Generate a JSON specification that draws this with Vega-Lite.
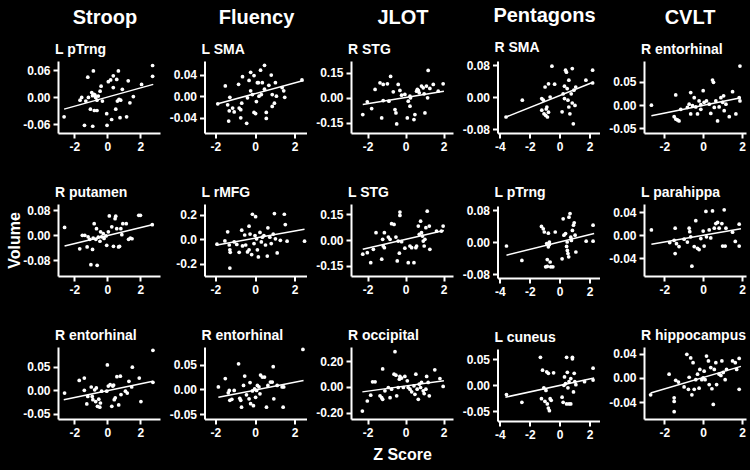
{
"$schema":"https://vega.github.io/schema/vega-lite/v6.json",
"background":"black",
"padding":{"left":6,"top":6,"right":6,"bottom":8},
"spacing":8.5,
"config":{
"locale":{"number":{"decimal":".","thousands":",","grouping":[3],"currency":["$",""],"minus":"-"}},
"view":{"stroke":null},
"font":"Liberation Sans",
"axis":{"grid":false,"labelOverlap":false,"labelFlush":false,"tickCount":10,"domainColor":"white","domainWidth":2,"tickColor":"white","tickWidth":2,"tickSize":5,"labelColor":"white","labelFont":"Liberation Sans","labelFontWeight":"bold","labelFontSize":12,"labelPadding":3,"titleColor":"white","titleFont":"Liberation Sans","titleFontWeight":"bold","titleFontSize":16},
"title":{"color":"white","font":"Liberation Sans","fontWeight":"bold","fontSize":14,"anchor":"start","frame":"group","offset":4,"dx":-3},
"circle":{"color":"white","opacity":1,"size":14},
"rule":{"color":"white","strokeWidth":1.5}
},
"datasets":{
"fit":[
{"p":1,"x":-2.63,"y":-0.027,"x2":2.79,"y2":0.028},
{"p":2,"x":-1.88,"y":-0.014,"x2":2.45,"y2":0.029},
{"p":3,"x":-2.26,"y":-0.04,"x2":2.02,"y2":0.04},
{"p":4,"x":-3.59,"y":-0.05,"x2":2.27,"y2":0.0375},
{"p":5,"x":-2.66,"y":-0.023,"x2":1.94,"y2":0.016},
{"p":6,"x":-2.6,"y":-0.034,"x2":2.73,"y2":0.034},
{"p":7,"x":-1.92,"y":-0.046,"x2":2.5,"y2":0.083},
{"p":8,"x":-2.26,"y":-0.054,"x2":2.02,"y2":0.056},
{"p":9,"x":-3.56,"y":-0.033,"x2":2.3,"y2":0.021},
{"p":10,"x":-2.66,"y":-0.016,"x2":1.94,"y2":0.011},
{"p":11,"x":-2.65,"y":-0.02,"x2":2.77,"y2":0.019},
{"p":12,"x":-1.85,"y":-0.016,"x2":2.45,"y2":0.018},
{"p":13,"x":-2.28,"y":-0.039,"x2":2.02,"y2":0.047},
{"p":14,"x":-3.63,"y":-0.023,"x2":2.3,"y2":0.014},
{"p":15,"x":-2.7,"y":-0.025,"x2":1.94,"y2":0.019}
],
"p1":[{"x":-2.63,"y":-0.044},{"x":-1.39,"y":-0.063},{"x":-0.89,"y":-0.065},{"x":-0.85,"y":0.058},{"x":-1.19,"y":0.044},{"x":-1.66,"y":-0.007},{"x":-1.56,"y":-0.001},{"x":-1.31,"y":-0.009},{"x":-1.15,"y":-0.001},{"x":-1.03,"y":-0.027},{"x":-0.79,"y":-0.03},{"x":-0.63,"y":-0.03},{"x":-0.95,"y":0.01},{"x":-0.81,"y":0.006},{"x":-0.71,"y":-0.001},{"x":-0.63,"y":-0.007},{"x":-0.55,"y":0.002},{"x":-0.44,"y":0.013},{"x":-0.38,"y":0.024},{"x":-0.3,"y":-0.009},{"x":-0.04,"y":-0.037},{"x":-0.02,"y":-0.063},{"x":0.06,"y":0.034},{"x":0.2,"y":0.038},{"x":0.36,"y":0.047},{"x":0.57,"y":0.039},{"x":0.67,"y":0.058},{"x":0.36,"y":0.021},{"x":0.26,"y":-0.05},{"x":0.51,"y":-0.027},{"x":0.61,"y":-0.009},{"x":0.71,"y":-0.005},{"x":0.81,"y":-0.007},{"x":0.91,"y":0.017},{"x":0.77,"y":-0.046},{"x":1.17,"y":-0.044},{"x":1.27,"y":0.036},{"x":1.37,"y":-0.013},{"x":1.58,"y":0.001},{"x":2.08,"y":0.028},{"x":2.75,"y":0.07},{"x":2.75,"y":0.046},{"x":-0.9,"y":0.003},{"x":-0.75,"y":0.004}],
"p2":[{"x":-1.88,"y":-0.014},{"x":-1.5,"y":0.019},{"x":-1.38,"y":-0.016},{"x":-1.27,"y":-0.002},{"x":-1.3,"y":-0.027},{"x":-1.33,"y":-0.046},{"x":-1.13,"y":-0.022},{"x":-1.05,"y":-0.029},{"x":-0.83,"y":0.022},{"x":-0.8,"y":-0.022},{"x":-0.72,"y":-0.025},{"x":-0.67,"y":-0.013},{"x":-0.63,"y":0.036},{"x":-0.72,"y":-0.04},{"x":-0.42,"y":-0.05},{"x":-0.38,"y":-0.003},{"x":-0.3,"y":0.029},{"x":-0.22,"y":0.044},{"x":-0.22,"y":0.01},{"x":-0.13,"y":0.003},{"x":-0.05,"y":0.038},{"x":-0.05,"y":-0.03},{"x":0.03,"y":-0.032},{"x":0.07,"y":-0.01},{"x":0.12,"y":0.025},{"x":0.17,"y":0.025},{"x":0.28,"y":0.048},{"x":0.2,"y":0},{"x":0.37,"y":0.025},{"x":0.32,"y":0.003},{"x":0.48,"y":0.057},{"x":0.48,"y":0.013},{"x":0.57,"y":-0.03},{"x":0.57,"y":-0.041},{"x":0.7,"y":0.02},{"x":0.82,"y":0.039},{"x":0.87,"y":0.003},{"x":0.87,"y":-0.019},{"x":0.98,"y":-0.013},{"x":1.03,"y":0.025},{"x":1.08,"y":0},{"x":1.37,"y":0.016},{"x":1.45,"y":0.01},{"x":1.5,"y":-0.002},{"x":2.37,"y":0.03}],
"p3":[{"x":-2.26,"y":-0.1},{"x":-2.02,"y":-0.024},{"x":-1.79,"y":-0.064},{"x":-1.61,"y":0.05},{"x":-1.35,"y":0.09},{"x":-1.18,"y":0.08},{"x":-1.26,"y":-0.12},{"x":-1.18,"y":-0.016},{"x":-0.96,"y":0.084},{"x":-0.88,"y":-0.02},{"x":-0.79,"y":0.128},{"x":-0.65,"y":0.036},{"x":-0.56,"y":-0.07},{"x":-0.51,"y":-0.09},{"x":-0.47,"y":-0.156},{"x":-0.39,"y":0.08},{"x":-0.3,"y":0.044},{"x":-0.21,"y":0.016},{"x":-0.04,"y":0.02},{"x":0.09,"y":-0.12},{"x":0.14,"y":-0.02},{"x":0.23,"y":-0.05},{"x":0.26,"y":0},{"x":0.44,"y":-0.13},{"x":0.49,"y":-0.1},{"x":0.58,"y":0.04},{"x":0.67,"y":0.044},{"x":0.72,"y":0.03},{"x":0.84,"y":0.07},{"x":0.93,"y":0.06},{"x":0.98,"y":0.024},{"x":1.02,"y":-0.09},{"x":1.1,"y":0.07},{"x":1.16,"y":0},{"x":1.19,"y":0.164},{"x":1.28,"y":0.056},{"x":1.46,"y":0.08},{"x":1.72,"y":0.04},{"x":1.98,"y":0.084},{"x":0.23,"y":0.01},{"x":0.62,"y":0.05}],
"p4":[{"x":-3.59,"y":-0.05},{"x":-2.5,"y":-0.008},{"x":-1.2,"y":-0.004},{"x":-1.09,"y":-0.008},{"x":-0.98,"y":0.025},{"x":-1.2,"y":-0.033},{"x":-1.05,"y":-0.042},{"x":-0.86,"y":-0.025},{"x":-0.93,"y":-0.046},{"x":-0.82,"y":-0.05},{"x":-0.75,"y":0.033},{"x":-0.64,"y":0},{"x":-0.52,"y":0.077},{"x":-0.34,"y":0.032},{"x":-0.75,"y":-0.038},{"x":0.16,"y":-0.037},{"x":0.23,"y":0.008},{"x":0.32,"y":-0.004},{"x":0.39,"y":0.067},{"x":0.45,"y":0.062},{"x":0.5,"y":0.021},{"x":0.55,"y":-0.008},{"x":0.61,"y":0.042},{"x":0.61,"y":-0.025},{"x":0.68,"y":-0.042},{"x":0.77,"y":0.008},{"x":0.84,"y":0.071},{"x":0.84,"y":-0.015},{"x":0.91,"y":-0.067},{"x":0.95,"y":0.017},{"x":1.02,"y":-0.021},{"x":1.07,"y":0.025},{"x":1.75,"y":0.042},{"x":2.2,"y":0.067},{"x":2.2,"y":0.035},{"x":0.32,"y":0.027},{"x":-0.9,"y":-0.03}],
"p5":[{"x":-2.66,"y":0},{"x":-1.41,"y":0.022},{"x":-1.49,"y":-0.025},{"x":-1.41,"y":-0.03},{"x":-1.32,"y":-0.032},{"x":-1.24,"y":-0.034},{"x":-1.15,"y":-0.009},{"x":-0.81,"y":-0.005},{"x":-0.72,"y":0.002},{"x":-0.64,"y":0.027},{"x":-0.64,"y":-0.019},{"x":-0.46,"y":0.016},{"x":-0.38,"y":-0.004},{"x":-0.29,"y":-0.019},{"x":-0.21,"y":0.009},{"x":-0.12,"y":-0.009},{"x":0,"y":0.031},{"x":0.05,"y":0.006},{"x":0.17,"y":0.009},{"x":0.31,"y":0.002},{"x":0.39,"y":-0.018},{"x":0.48,"y":0.054},{"x":0.53,"y":0.049},{"x":0.57,"y":-0.005},{"x":0.65,"y":0.009},{"x":0.74,"y":-0.034},{"x":0.82,"y":-0.004},{"x":0.91,"y":0.016},{"x":1,"y":0.006},{"x":1.05,"y":0.02},{"x":1.08,"y":-0.012},{"x":1.17,"y":0.002},{"x":1.34,"y":-0.025},{"x":1.51,"y":0.029},{"x":1.68,"y":-0.019},{"x":1.85,"y":0.016},{"x":1.89,"y":0.084},{"x":1.89,"y":0.009},{"x":-0.12,"y":0.001},{"x":-0.55,"y":-0.001}],
"p6":[{"x":-2.6,"y":0.025},{"x":-1.68,"y":-0.043},{"x":-1.52,"y":0},{"x":-1.37,"y":0},{"x":-1.23,"y":-0.037},{"x":-1.17,"y":-0.005},{"x":-1.07,"y":-0.013},{"x":-1,"y":-0.094},{"x":-0.9,"y":-0.045},{"x":-0.86,"y":-0.009},{"x":-0.8,"y":0.037},{"x":-0.7,"y":-0.013},{"x":-0.66,"y":0.021},{"x":-0.62,"y":-0.096},{"x":-0.55,"y":-0.006},{"x":-0.45,"y":-0.019},{"x":-0.41,"y":0.011},{"x":-0.25,"y":0.005},{"x":-0.08,"y":-0.002},{"x":-0.04,"y":-0.032},{"x":0.06,"y":0.011},{"x":0.12,"y":0.062},{"x":0.27,"y":0.027},{"x":0.37,"y":-0.035},{"x":0.47,"y":0.053},{"x":0.51,"y":0.061},{"x":0.57,"y":0.021},{"x":0.68,"y":-0.037},{"x":0.74,"y":-0.035},{"x":0.82,"y":0.021},{"x":0.88,"y":0.002},{"x":0.94,"y":0.037},{"x":1.15,"y":0.037},{"x":1.29,"y":-0.013},{"x":1.4,"y":-0.009},{"x":1.5,"y":-0.011},{"x":1.91,"y":0.064},{"x":2.01,"y":0.064},{"x":2.73,"y":0.034},{"x":-0.35,"y":-0.005},{"x":-0.2,"y":-0.01}],
"p7":[{"x":-1.92,"y":-0.039},{"x":-1.52,"y":-0.013},{"x":-1.38,"y":0.062},{"x":-1.3,"y":-0.046},{"x":-1.27,"y":-0.085},{"x":-1.25,"y":-0.106},{"x":-1.27,"y":-0.235},{"x":-1.05,"y":-0.021},{"x":-0.92,"y":-0.041},{"x":-0.8,"y":-0.106},{"x":-0.67,"y":0.075},{"x":-0.63,"y":-0.054},{"x":-0.52,"y":0.036},{"x":-0.47,"y":-0.046},{"x":-0.38,"y":-0.103},{"x":-0.3,"y":0.108},{"x":-0.3,"y":-0.085},{"x":-0.25,"y":0.044},{"x":-0.17,"y":-0.124},{"x":-0.13,"y":0.206},{"x":0.03,"y":0.186},{"x":-0.05,"y":-0.034},{"x":0,"y":0.031},{"x":0.08,"y":0.005},{"x":0.12,"y":-0.085},{"x":0.17,"y":-0.144},{"x":0.25,"y":0.057},{"x":0.32,"y":-0.021},{"x":0.37,"y":0.018},{"x":0.45,"y":0.031},{"x":0.53,"y":-0.046},{"x":0.62,"y":-0.137},{"x":0.65,"y":0.095},{"x":0.75,"y":0.018},{"x":0.82,"y":-0.034},{"x":0.92,"y":0.044},{"x":0.98,"y":0.212},{"x":1.03,"y":0.005},{"x":1.12,"y":-0.111},{"x":1.28,"y":-0.008},{"x":1.48,"y":0.206},{"x":1.53,"y":0.121},{"x":1.62,"y":-0.015},{"x":2.5,"y":-0.015}],
"p8":[{"x":-2.26,"y":-0.083},{"x":-2.02,"y":-0.074},{"x":-1.84,"y":-0.132},{"x":-1.7,"y":-0.054},{"x":-1.56,"y":0.043},{"x":-1.26,"y":-0.112},{"x":-1.21,"y":0.004},{"x":-1.12,"y":0.043},{"x":-1.18,"y":-0.035},{"x":-1.12,"y":-0.045},{"x":-0.91,"y":0.017},{"x":-0.82,"y":0.004},{"x":-0.74,"y":0.095},{"x":-0.61,"y":0.091},{"x":-0.51,"y":0.017},{"x":-0.44,"y":-0.122},{"x":-0.39,"y":-0.006},{"x":-0.33,"y":-0.077},{"x":-0.3,"y":0.163},{"x":-0.3,"y":0.143},{"x":-0.21,"y":-0.01},{"x":-0.04,"y":-0.048},{"x":0.14,"y":-0.132},{"x":0.23,"y":-0.035},{"x":0.32,"y":-0.045},{"x":0.44,"y":-0.132},{"x":0.54,"y":-0.045},{"x":0.58,"y":-0.035},{"x":0.67,"y":0.081},{"x":0.72,"y":0.033},{"x":0.79,"y":0.11},{"x":0.84,"y":0.043},{"x":0.89,"y":0.023},{"x":0.93,"y":-0.006},{"x":0.98,"y":-0.035},{"x":1.02,"y":0.004},{"x":1.07,"y":0.072},{"x":1.14,"y":0.168},{"x":1.28,"y":-0.054},{"x":1.25,"y":0.081},{"x":1.63,"y":0.052},{"x":1.89,"y":0.052},{"x":1.98,"y":0.081}],
"p9":[{"x":-3.56,"y":-0.01},{"x":-2.53,"y":-0.046},{"x":-1.22,"y":0.039},{"x":-1.1,"y":0.033},{"x":-1.03,"y":0.025},{"x":-0.87,"y":-0.004},{"x":-0.83,"y":-0.044},{"x":-0.76,"y":0.022},{"x":-0.76,"y":-0.012},{"x":-0.69,"y":-0.006},{"x":-0.69,"y":0},{"x":-0.64,"y":-0.05},{"x":-0.6,"y":-0.062},{"x":-0.94,"y":-0.062},{"x":-0.83,"y":-0.061},{"x":-0.46,"y":-0.062},{"x":-0.3,"y":0.025},{"x":0.16,"y":-0.042},{"x":0.23,"y":0.058},{"x":0.28,"y":0.017},{"x":0.39,"y":0.021},{"x":0.46,"y":-0.011},{"x":0.51,"y":-0.021},{"x":0.55,"y":-0.029},{"x":0.6,"y":-0.037},{"x":0.62,"y":0.062},{"x":0.69,"y":0.071},{"x":0.74,"y":0.012},{"x":0.78,"y":0.004},{"x":0.85,"y":0.029},{"x":0.92,"y":0.042},{"x":0.97,"y":0.048},{"x":1.08,"y":-0.025},{"x":1.03,"y":0.017},{"x":1.77,"y":0.002},{"x":2.23,"y":0.042},{"x":2.23,"y":0.002},{"x":0.5,"y":0}],
"p10":[{"x":-2.66,"y":0.009},{"x":-1.72,"y":-0.013},{"x":-1.49,"y":-0.009},{"x":-1.44,"y":0.012},{"x":-1.44,"y":-0.032},{"x":-1.37,"y":-0.015},{"x":-1.24,"y":-0.02},{"x":-0.98,"y":-0.007},{"x":-0.81,"y":-0.012},{"x":-0.72,"y":0.012},{"x":-0.69,"y":0.006},{"x":-0.64,"y":-0.003},{"x":-0.58,"y":-0.054},{"x":-0.46,"y":-0.02},{"x":-0.38,"y":0.025},{"x":-0.29,"y":-0.023},{"x":-0.21,"y":-0.025},{"x":-0.12,"y":-0.006},{"x":0,"y":0.007},{"x":0.05,"y":-0.019},{"x":0.14,"y":0.041},{"x":0.17,"y":-0.003},{"x":0.31,"y":0.009},{"x":0.39,"y":-0.005},{"x":0.48,"y":0.042},{"x":0.57,"y":0.012},{"x":0.65,"y":0.02},{"x":0.74,"y":0.022},{"x":0.82,"y":0.012},{"x":0.96,"y":0.02},{"x":1,"y":-0.019},{"x":1.08,"y":0.044},{"x":1.13,"y":-0.019},{"x":1.17,"y":0.012},{"x":1.51,"y":0.005},{"x":1.65,"y":-0.011},{"x":1.85,"y":0.019},{"x":1.85,"y":-0.019}],
"p11":[{"x":-2.6,"y":-0.006},{"x":-1.71,"y":0.021},{"x":-1.4,"y":0.026},{"x":-1.4,"y":0},{"x":-1.25,"y":-0.029},{"x":-1.19,"y":-0.013},{"x":-0.98,"y":0.007},{"x":-0.92,"y":-0.013},{"x":-0.88,"y":-0.02},{"x":-0.77,"y":0.001},{"x":-0.71,"y":-0.024},{"x":-0.67,"y":0.005},{"x":-0.6,"y":-0.034},{"x":-0.52,"y":-0.019},{"x":-0.46,"y":-0.036},{"x":-0.42,"y":-0.027},{"x":-0.35,"y":-0.002},{"x":-0.04,"y":-0.002},{"x":0,"y":0.054},{"x":0.06,"y":0.009},{"x":0.17,"y":0.012},{"x":0.27,"y":-0.034},{"x":0.33,"y":0.009},{"x":0.42,"y":-0.02},{"x":0.48,"y":-0.016},{"x":0.58,"y":0.029},{"x":0.69,"y":-0.031},{"x":0.79,"y":0.03},{"x":0.83,"y":-0.009},{"x":1.1,"y":-0.002},{"x":1.21,"y":-0.006},{"x":1.31,"y":0.019},{"x":1.52,"y":0.049},{"x":1.48,"y":0.007},{"x":1.94,"y":0.026},{"x":2.04,"y":-0.024},{"x":2.77,"y":0.085},{"x":2.77,"y":0.017},{"x":0.38,"y":0.011}],
"p12":[{"x":-1.85,"y":0.005},{"x":-1.5,"y":0.022},{"x":-1.35,"y":-0.007},{"x":-1.3,"y":-0.002},{"x":-1.27,"y":-0.022},{"x":-1.17,"y":-0.02},{"x":-1.05,"y":-0.002},{"x":-0.83,"y":0.052},{"x":-0.77,"y":-0.018},{"x":-0.72,"y":-0.022},{"x":-0.68,"y":-0.036},{"x":-0.58,"y":0.008},{"x":-0.52,"y":0.027},{"x":-0.43,"y":-0.011},{"x":-0.3,"y":-0.019},{"x":-0.25,"y":0.014},{"x":-0.22,"y":-0.029},{"x":-0.13,"y":-0.003},{"x":-0.08,"y":-0.033},{"x":-0.02,"y":0.001},{"x":0.03,"y":-0.016},{"x":0.08,"y":-0.002},{"x":0.12,"y":0.008},{"x":0.2,"y":0.005},{"x":0.25,"y":-0.009},{"x":0.28,"y":0.029},{"x":0.37,"y":0.025},{"x":0.48,"y":0.025},{"x":0.58,"y":-0.036},{"x":0.65,"y":0.008},{"x":0.78,"y":0.015},{"x":0.87,"y":0.015},{"x":0.92,"y":0.046},{"x":0.95,"y":-0.019},{"x":1.12,"y":0.008},{"x":1.37,"y":0.005},{"x":1.42,"y":-0.036},{"x":1.45,"y":0.005},{"x":2.42,"y":0.081}],
"p13":[{"x":-2.28,"y":-0.188},{"x":-2.02,"y":-0.11},{"x":-1.84,"y":-0.065},{"x":-1.74,"y":0.039},{"x":-1.61,"y":0.039},{"x":-1.35,"y":-0.07},{"x":-1.26,"y":-0.084},{"x":-1.21,"y":0.139},{"x":-1.21,"y":-0.097},{"x":-1.09,"y":-0.031},{"x":-0.91,"y":-0.005},{"x":-0.82,"y":-0.084},{"x":-0.74,"y":-0.018},{"x":-0.61,"y":0.099},{"x":-0.56,"y":0.274},{"x":-0.51,"y":0.091},{"x":-0.47,"y":-0.07},{"x":-0.39,"y":-0.005},{"x":-0.33,"y":0.06},{"x":-0.3,"y":0.081},{"x":-0.21,"y":0.068},{"x":-0.12,"y":-0.005},{"x":-0.04,"y":0.081},{"x":0.09,"y":0.047},{"x":0.14,"y":-0.005},{"x":0.23,"y":-0.018},{"x":0.32,"y":-0.039},{"x":0.44,"y":0.008},{"x":0.49,"y":-0.058},{"x":0.54,"y":0.099},{"x":0.61,"y":-0.018},{"x":0.67,"y":-0.097},{"x":0.72,"y":0.021},{"x":0.79,"y":-0.005},{"x":0.84,"y":0.034},{"x":0.93,"y":-0.031},{"x":0.98,"y":-0.052},{"x":1.07,"y":-0.018},{"x":1.11,"y":0.081},{"x":1.19,"y":0.034},{"x":1.25,"y":-0.07},{"x":1.54,"y":0.133},{"x":1.81,"y":0.065},{"x":1.98,"y":0.003}],
"p14":[{"x":-3.56,"y":-0.018},{"x":-2.53,"y":-0.033},{"x":-1.29,"y":0.054},{"x":-1.22,"y":-0.026},{"x":-1.15,"y":0.029},{"x":-1.06,"y":-0.005},{"x":-0.99,"y":-0.031},{"x":-0.92,"y":-0.01},{"x":-0.87,"y":0.026},{"x":-0.83,"y":-0.036},{"x":-0.76,"y":0.023},{"x":-0.76,"y":-0.044},{"x":-0.69,"y":-0.049},{"x":-0.64,"y":-0.026},{"x":-0.57,"y":-0.029},{"x":-0.41,"y":0.024},{"x":0.16,"y":-0.023},{"x":0.23,"y":-0.033},{"x":0.28,"y":0},{"x":0.32,"y":0.016},{"x":0.39,"y":0.003},{"x":0.46,"y":0.054},{"x":0.46,"y":-0.036},{"x":0.51,"y":0.025},{"x":0.55,"y":-0.005},{"x":0.62,"y":0.007},{"x":0.62,"y":-0.036},{"x":0.74,"y":0.013},{"x":0.85,"y":0.054},{"x":0.85,"y":0.051},{"x":0.92,"y":-0.013},{"x":0.97,"y":0.023},{"x":1.01,"y":0.007},{"x":1.08,"y":0.001},{"x":0.74,"y":-0.036},{"x":1.66,"y":0.007},{"x":2.23,"y":0.033},{"x":2.23,"y":0.01}],
"p15":[{"x":-2.7,"y":-0.028},{"x":-1.75,"y":0.006},{"x":-1.49,"y":-0.033},{"x":-1.49,"y":-0.039},{"x":-1.49,"y":-0.056},{"x":-1.41,"y":-0.004},{"x":-1.27,"y":-0.007},{"x":-0.98,"y":-0.015},{"x":-0.84,"y":0.039},{"x":-0.76,"y":-0.019},{"x":-0.72,"y":0.001},{"x":-0.64,"y":0.033},{"x":-0.58,"y":-0.028},{"x":-0.52,"y":0.025},{"x":-0.46,"y":-0.019},{"x":-0.38,"y":-0.003},{"x":-0.29,"y":0.006},{"x":-0.21,"y":-0.017},{"x":-0.17,"y":0.014},{"x":-0.07,"y":-0.003},{"x":0,"y":0},{"x":0.05,"y":0.011},{"x":0.1,"y":-0.003},{"x":0.17,"y":0.036},{"x":0.27,"y":0.028},{"x":0.31,"y":-0.011},{"x":0.39,"y":0.017},{"x":0.45,"y":-0.018},{"x":0.52,"y":-0.044},{"x":0.57,"y":0.014},{"x":0.65,"y":0.025},{"x":0.69,"y":-0.011},{"x":0.82,"y":0.006},{"x":0.91,"y":0.004},{"x":0.96,"y":0.028},{"x":1.03,"y":0.009},{"x":1.13,"y":-0.003},{"x":1.2,"y":0.014},{"x":1.51,"y":0.028},{"x":1.65,"y":0.025},{"x":1.85,"y":0.032},{"x":1.85,"y":-0.019},{"x":1.72,"y":0.014}]
},
"hconcat":[
{"title":{"text":"Stroop","fontSize":20,"anchor":"middle","dx":47,"offset":15},"spacing":34,"vconcat":[
{"width":102,"height":72,"title":"L pTrng","layer":[
{"data":{"name":"p1"},"mark":"circle","encoding":{"x":{"field":"x","type":"quantitative","scale":{"domain":[-3,3.2],"nice":false,"zero":false},"axis":{"values":[-2,0,2],"format":"d","title":null,"tickCount":10}},"y":{"field":"y","type":"quantitative","scale":{"domain":[-0.08,0.08],"nice":false,"zero":false},"axis":{"values":[-0.06,0,0.06],"format":".2f","title":null,"tickCount":10}}}},
{"data":{"name":"fit"},"transform":[{"filter":"datum.p==1"}],"mark":"rule","encoding":{"x":{"field":"x","type":"quantitative"},"y":{"field":"y","type":"quantitative"},"x2":{"field":"x2"},"y2":{"field":"y2"}}}]},
{"width":102,"height":72,"title":"R putamen","layer":[
{"data":{"name":"p6"},"mark":"circle","encoding":{"x":{"field":"x","type":"quantitative","scale":{"domain":[-3,3.2],"nice":false,"zero":false},"axis":{"values":[-2,0,2],"format":"d","title":null,"tickCount":10}},"y":{"field":"y","type":"quantitative","scale":{"domain":[-0.13,0.1],"nice":false,"zero":false},"axis":{"values":[-0.08,0,0.08],"format":".2f","title":"Volume","titlePadding":0,"tickCount":10}}}},
{"data":{"name":"fit"},"transform":[{"filter":"datum.p==6"}],"mark":"rule","encoding":{"x":{"field":"x","type":"quantitative"},"y":{"field":"y","type":"quantitative"},"x2":{"field":"x2"},"y2":{"field":"y2"}}}]},
{"width":102,"height":72,"title":"R entorhinal","layer":[
{"data":{"name":"p11"},"mark":"circle","encoding":{"x":{"field":"x","type":"quantitative","scale":{"domain":[-3,3.2],"nice":false,"zero":false},"axis":{"values":[-2,0,2],"format":"d","title":null,"tickCount":10}},"y":{"field":"y","type":"quantitative","scale":{"domain":[-0.061,0.092],"nice":false,"zero":false},"axis":{"values":[-0.05,0,0.05],"format":".2f","title":null,"tickCount":10}}}},
{"data":{"name":"fit"},"transform":[{"filter":"datum.p==11"}],"mark":"rule","encoding":{"x":{"field":"x","type":"quantitative"},"y":{"field":"y","type":"quantitative"},"x2":{"field":"x2"},"y2":{"field":"y2"}}}]}
]},
{"title":{"text":"Fluency","fontSize":20,"anchor":"middle","dx":52,"offset":15},"spacing":34,"vconcat":[
{"width":102,"height":72,"title":"L SMA","layer":[
{"data":{"name":"p2"},"mark":"circle","encoding":{"x":{"field":"x","type":"quantitative","scale":{"domain":[-2.55,2.6],"nice":false,"zero":false},"axis":{"values":[-2,0,2],"format":"d","title":null,"tickCount":10}},"y":{"field":"y","type":"quantitative","scale":{"domain":[-0.068,0.065],"nice":false,"zero":false},"axis":{"values":[-0.04,0,0.04],"format":".2f","title":null,"tickCount":10}}}},
{"data":{"name":"fit"},"transform":[{"filter":"datum.p==2"}],"mark":"rule","encoding":{"x":{"field":"x","type":"quantitative"},"y":{"field":"y","type":"quantitative"},"x2":{"field":"x2"},"y2":{"field":"y2"}}}]},
{"width":102,"height":72,"title":"L rMFG","layer":[
{"data":{"name":"p7"},"mark":"circle","encoding":{"x":{"field":"x","type":"quantitative","scale":{"domain":[-2.55,2.6],"nice":false,"zero":false},"axis":{"values":[-2,0,2],"format":"d","title":null,"tickCount":10}},"y":{"field":"y","type":"quantitative","scale":{"domain":[-0.3,0.29],"nice":false,"zero":false},"axis":{"values":[-0.2,0,0.2],"format":".1f","title":null,"tickCount":10}}}},
{"data":{"name":"fit"},"transform":[{"filter":"datum.p==7"}],"mark":"rule","encoding":{"x":{"field":"x","type":"quantitative"},"y":{"field":"y","type":"quantitative"},"x2":{"field":"x2"},"y2":{"field":"y2"}}}]},
{"width":102,"height":72,"title":"R entorhinal","layer":[
{"data":{"name":"p12"},"mark":"circle","encoding":{"x":{"field":"x","type":"quantitative","scale":{"domain":[-2.55,2.6],"nice":false,"zero":false},"axis":{"values":[-2,0,2],"format":"d","title":null,"tickCount":10}},"y":{"field":"y","type":"quantitative","scale":{"domain":[-0.06,0.086],"nice":false,"zero":false},"axis":{"values":[-0.05,0,0.05],"format":".2f","title":null,"tickCount":10}}}},
{"data":{"name":"fit"},"transform":[{"filter":"datum.p==12"}],"mark":"rule","encoding":{"x":{"field":"x","type":"quantitative"},"y":{"field":"y","type":"quantitative"},"x2":{"field":"x2"},"y2":{"field":"y2"}}}]}
]},
{"title":{"text":"JLOT","fontSize":20,"anchor":"middle","dx":52,"offset":15},"spacing":34,"vconcat":[
{"width":102,"height":72,"title":"R STG","layer":[
{"data":{"name":"p3"},"mark":"circle","encoding":{"x":{"field":"x","type":"quantitative","scale":{"domain":[-2.88,2.5],"nice":false,"zero":false},"axis":{"values":[-2,0,2],"format":"d","title":null,"tickCount":10}},"y":{"field":"y","type":"quantitative","scale":{"domain":[-0.21,0.22],"nice":false,"zero":false},"axis":{"values":[-0.15,0,0.15],"format":".2f","title":null,"tickCount":10}}}},
{"data":{"name":"fit"},"transform":[{"filter":"datum.p==3"}],"mark":"rule","encoding":{"x":{"field":"x","type":"quantitative"},"y":{"field":"y","type":"quantitative"},"x2":{"field":"x2"},"y2":{"field":"y2"}}}]},
{"width":102,"height":72,"title":"L STG","layer":[
{"data":{"name":"p8"},"mark":"circle","encoding":{"x":{"field":"x","type":"quantitative","scale":{"domain":[-2.88,2.5],"nice":false,"zero":false},"axis":{"values":[-2,0,2],"format":"d","title":null,"tickCount":10}},"y":{"field":"y","type":"quantitative","scale":{"domain":[-0.21,0.21],"nice":false,"zero":false},"axis":{"values":[-0.15,0,0.15],"format":".2f","title":null,"tickCount":10}}}},
{"data":{"name":"fit"},"transform":[{"filter":"datum.p==8"}],"mark":"rule","encoding":{"x":{"field":"x","type":"quantitative"},"y":{"field":"y","type":"quantitative"},"x2":{"field":"x2"},"y2":{"field":"y2"}}}]},
{"width":102,"height":72,"title":"R occipital","layer":[
{"data":{"name":"p13"},"mark":"circle","encoding":{"x":{"field":"x","type":"quantitative","scale":{"domain":[-2.88,2.5],"nice":false,"zero":false},"axis":{"values":[-2,0,2],"format":"d","title":"Z Score","titlePadding":8,"tickCount":10}},"y":{"field":"y","type":"quantitative","scale":{"domain":[-0.25,0.31],"nice":false,"zero":false},"axis":{"values":[-0.2,0,0.2],"format":".2f","title":null,"tickCount":10}}}},
{"data":{"name":"fit"},"transform":[{"filter":"datum.p==13"}],"mark":"rule","encoding":{"x":{"field":"x","type":"quantitative"},"y":{"field":"y","type":"quantitative"},"x2":{"field":"x2"},"y2":{"field":"y2"}}}]}
]},
{"title":{"text":"Pentagons","fontSize":20,"anchor":"middle","dx":47,"offset":15},"spacing":34,"vconcat":[
{"width":102,"height":72,"title":"R SMA","layer":[
{"data":{"name":"p4"},"mark":"circle","encoding":{"x":{"field":"x","type":"quantitative","scale":{"domain":[-4.16,2.66],"nice":false,"zero":false},"axis":{"values":[-4,-2,0,2],"format":"d","title":null,"tickCount":10}},"y":{"field":"y","type":"quantitative","scale":{"domain":[-0.09,0.09],"nice":false,"zero":false},"axis":{"values":[-0.08,0,0.08],"format":".2f","title":null,"tickCount":10}}}},
{"data":{"name":"fit"},"transform":[{"filter":"datum.p==4"}],"mark":"rule","encoding":{"x":{"field":"x","type":"quantitative"},"y":{"field":"y","type":"quantitative"},"x2":{"field":"x2"},"y2":{"field":"y2"}}}]},
{"width":102,"height":72,"title":"L pTrng","layer":[
{"data":{"name":"p9"},"mark":"circle","encoding":{"x":{"field":"x","type":"quantitative","scale":{"domain":[-4.16,2.66],"nice":false,"zero":false},"axis":{"values":[-4,-2,0,2],"format":"d","title":null,"tickCount":10}},"y":{"field":"y","type":"quantitative","scale":{"domain":[-0.09,0.09],"nice":false,"zero":false},"axis":{"values":[-0.08,0,0.08],"format":".2f","title":null,"tickCount":10}}}},
{"data":{"name":"fit"},"transform":[{"filter":"datum.p==9"}],"mark":"rule","encoding":{"x":{"field":"x","type":"quantitative"},"y":{"field":"y","type":"quantitative"},"x2":{"field":"x2"},"y2":{"field":"y2"}}}]},
{"width":102,"height":72,"title":"L cuneus","layer":[
{"data":{"name":"p14"},"mark":"circle","encoding":{"x":{"field":"x","type":"quantitative","scale":{"domain":[-4.16,2.66],"nice":false,"zero":false},"axis":{"values":[-4,-2,0,2],"format":"d","title":null,"tickCount":10}},"y":{"field":"y","type":"quantitative","scale":{"domain":[-0.069,0.07],"nice":false,"zero":false},"axis":{"values":[-0.05,0,0.05],"format":".2f","title":null,"tickCount":10}}}},
{"data":{"name":"fit"},"transform":[{"filter":"datum.p==14"}],"mark":"rule","encoding":{"x":{"field":"x","type":"quantitative"},"y":{"field":"y","type":"quantitative"},"x2":{"field":"x2"},"y2":{"field":"y2"}}}]}
]},
{"title":{"text":"CVLT","fontSize":20,"anchor":"middle","dx":46,"offset":15},"spacing":34,"vconcat":[
{"width":102,"height":72,"title":"R entorhinal","layer":[
{"data":{"name":"p5"},"mark":"circle","encoding":{"x":{"field":"x","type":"quantitative","scale":{"domain":[-3.04,2.2],"nice":false,"zero":false},"axis":{"values":[-2,0,2],"format":"d","title":null,"tickCount":10}},"y":{"field":"y","type":"quantitative","scale":{"domain":[-0.06,0.095],"nice":false,"zero":false},"axis":{"values":[-0.05,0,0.05],"format":".2f","title":null,"tickCount":10}}}},
{"data":{"name":"fit"},"transform":[{"filter":"datum.p==5"}],"mark":"rule","encoding":{"x":{"field":"x","type":"quantitative"},"y":{"field":"y","type":"quantitative"},"x2":{"field":"x2"},"y2":{"field":"y2"}}}]},
{"width":102,"height":72,"title":"L parahippa","layer":[
{"data":{"name":"p10"},"mark":"circle","encoding":{"x":{"field":"x","type":"quantitative","scale":{"domain":[-3.04,2.2],"nice":false,"zero":false},"axis":{"values":[-2,0,2],"format":"d","title":null,"tickCount":10}},"y":{"field":"y","type":"quantitative","scale":{"domain":[-0.071,0.054],"nice":false,"zero":false},"axis":{"values":[-0.04,0,0.04],"format":".2f","title":null,"tickCount":10}}}},
{"data":{"name":"fit"},"transform":[{"filter":"datum.p==10"}],"mark":"rule","encoding":{"x":{"field":"x","type":"quantitative"},"y":{"field":"y","type":"quantitative"},"x2":{"field":"x2"},"y2":{"field":"y2"}}}]},
{"width":102,"height":72,"title":"R hippocampus","layer":[
{"data":{"name":"p15"},"mark":"circle","encoding":{"x":{"field":"x","type":"quantitative","scale":{"domain":[-3.04,2.2],"nice":false,"zero":false},"axis":{"values":[-2,0,2],"format":"d","title":null,"tickCount":10}},"y":{"field":"y","type":"quantitative","scale":{"domain":[-0.068,0.051],"nice":false,"zero":false},"axis":{"values":[-0.04,0,0.04],"format":".2f","title":null,"tickCount":10}}}},
{"data":{"name":"fit"},"transform":[{"filter":"datum.p==15"}],"mark":"rule","encoding":{"x":{"field":"x","type":"quantitative"},"y":{"field":"y","type":"quantitative"},"x2":{"field":"x2"},"y2":{"field":"y2"}}}]}
]}
]
}
